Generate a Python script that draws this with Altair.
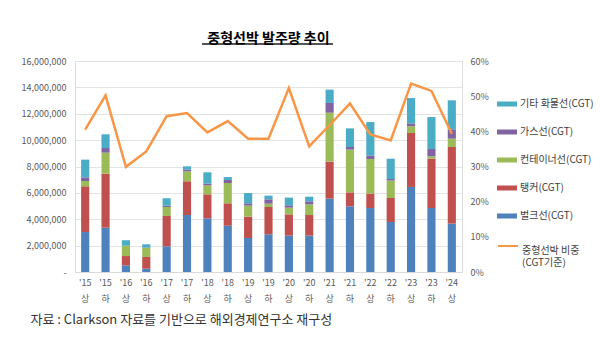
import altair as alt
import pandas as pd

periods = ["'15 상", "'15 하", "'16 상", "'16 하", "'17 상", "'17 하", "'18 상", "'18 하",
           "'19 상", "'19 하", "'20 상", "'20 하", "'21 상", "'21 하", "'22 상", "'22 하",
           "'23 상", "'23 하", "'24 상"]

# CGT, in millions
bulk = [3.03, 3.36, 0.50, 0.25, 1.95, 4.32, 4.07, 3.51, 2.58, 2.86, 2.76, 2.76, 5.56, 4.98, 4.85, 3.79, 6.45, 4.85, 3.67]
tanker = [3.47, 4.10, 0.71, 0.89, 2.30, 2.56, 1.82, 1.70, 1.62, 2.07, 1.61, 1.56, 2.81, 1.06, 1.09, 1.82, 4.09, 3.74, 5.81]
container = [0.40, 1.59, 0.76, 0.68, 0.68, 0.75, 0.68, 1.54, 0.83, 0.25, 0.51, 0.81, 3.71, 3.24, 2.63, 1.32, 0.51, 0.18, 0.63]
gas = [0.28, 0.35, 0.03, 0.03, 0.10, 0.13, 0.13, 0.23, 0.18, 0.33, 0.18, 0.23, 0.74, 0.20, 0.25, 0.12, 0.22, 0.56, 0.71]
other = [1.34, 1.04, 0.41, 0.25, 0.56, 0.25, 0.86, 0.22, 0.78, 0.28, 0.58, 0.35, 1.01, 1.41, 2.55, 1.54, 1.92, 2.42, 2.20]
share = [40.5, 50.2, 29.9, 34.3, 44.3, 45.2, 39.7, 42.9, 37.9, 37.9, 52.3, 35.7, 41.8, 47.9, 39.1, 37.4, 53.6, 51.5, 39.3]

series_names = ["벌크선(CGT)", "탱커(CGT)", "컨테이너선(CGT)", "가스선(CGT)", "기타 화물선(CGT)"]
series_vals = [bulk, tanker, container, gas, other]
legend_order = ["기타 화물선(CGT)", "가스선(CGT)", "컨테이너선(CGT)", "탱커(CGT)", "벌크선(CGT)"]
legend_colors = ["#4BACC6", "#8064A2", "#9BBB59", "#C0504D", "#4F81BD"]
line_name = "중형선박 비중"

rows = []
for k, (name, vals) in enumerate(zip(series_names, series_vals)):
    for p, v in zip(periods, vals):
        rows.append({"period": p, "type": name, "value": v * 1e6, "ord": k})
bars_df = pd.DataFrame(rows)
line_df = pd.DataFrame({"period": periods, "share": [s / 100 for s in share], "series": line_name})

FONT = "Noto Sans CJK KR"
GRAY = "#595959"

x_enc = alt.X(
    "period:N", sort=periods,
    scale=alt.Scale(paddingInner=0.6, paddingOuter=0.3),
    axis=alt.Axis(
        title="자료 : Clarkson 자료를 기반으로 해외경제연구소 재구성",
        titleFont=FONT, titleFontSize=13, titleFontWeight="normal", titleColor="#333333",
        titleAnchor="start", titleAlign="left", titleX=-45, titleY=41,
        labelExpr="split(datum.label, ' ')", labelAngle=0, labelFont=FONT,
        labelFontSize=9, labelColor=GRAY, labelLineHeight=16, labelPadding=6,
        ticks=False, domainColor="#D9D9D9", grid=False,
    ),
)

bars = alt.Chart(bars_df).mark_bar().encode(
    x=x_enc,
    y=alt.Y("value:Q", stack="zero",
            scale=alt.Scale(domain=[0, 16000000], nice=False),
            axis=alt.Axis(title=None, values=list(range(0, 16000001, 2000000)),
                          labelExpr="datum.value == 0 ? '-' : format(datum.value, ',')",
                          labelFont=FONT, labelFontSize=9, labelColor=GRAY, labelPadding=9,
                          ticks=False, domain=False, grid=True, gridColor="#E3E3E3")),
    fill=alt.Fill("type:N", scale=alt.Scale(domain=legend_order, range=legend_colors),
                  legend=alt.Legend(title=None, orient="none", legendX=422, legendY=33,
                                    symbolType="M-1,-0.25H1V0.25H-1Z", symbolSize=400,
                                    symbolStrokeWidth=0, labelFont=FONT, labelFontSize=10,
                                    labelColor="#404040", rowPadding=13, labelOffset=3, padding=0)),
    order=alt.Order("ord:Q"),
)

line = alt.Chart(line_df).mark_line(strokeWidth=2.5).encode(
    x=alt.X("period:N", sort=periods),
    y=alt.Y("share:Q", scale=alt.Scale(domain=[0, 0.6], nice=False),
            axis=alt.Axis(title=None, orient="right", format=".0%",
                          values=[0, 0.1, 0.2, 0.3, 0.4, 0.5, 0.6],
                          labelFont=FONT, labelFontSize=9, labelColor=GRAY, labelPadding=8,
                          ticks=False, domain=False, grid=False)),
    stroke=alt.Stroke("series:N", scale=alt.Scale(domain=[line_name], range=["#F79646"]),
                      legend=alt.Legend(title=None, orient="none", legendX=422, legendY=174,
                                        symbolType="stroke", symbolSize=400, symbolStrokeWidth=2,
                                        labelExpr="[datum.label, '(CGT기준)']",
                                        labelBaseline="top",
                                        labelFont=FONT, labelFontSize=10, labelColor="#404040",
                                        labelOffset=3, padding=0)),
)

underline = alt.Chart(pd.DataFrame({"a": [0]})).mark_rule(
    stroke="#555555", strokeWidth=2, opacity=1
).encode(
    x=alt.value(127), x2=alt.value(258), y=alt.value(-17)
)

chart = alt.layer(bars, line, underline).resolve_scale(y="independent").properties(
    width=387, height=211,
    title=alt.TitleParams("중형선박 발주량 추이", font=FONT, fontSize=14, fontWeight="bold",
                          color="#000000", anchor="middle", offset=-3),
    autosize=alt.AutoSizeParams(type="none"),
    padding={"left": 75, "top": 61, "right": 138, "bottom": 65},
).configure_view(stroke=None).configure(background="white")

chart.save("out.html", embed_options={"renderer": "svg", "actions": False})
